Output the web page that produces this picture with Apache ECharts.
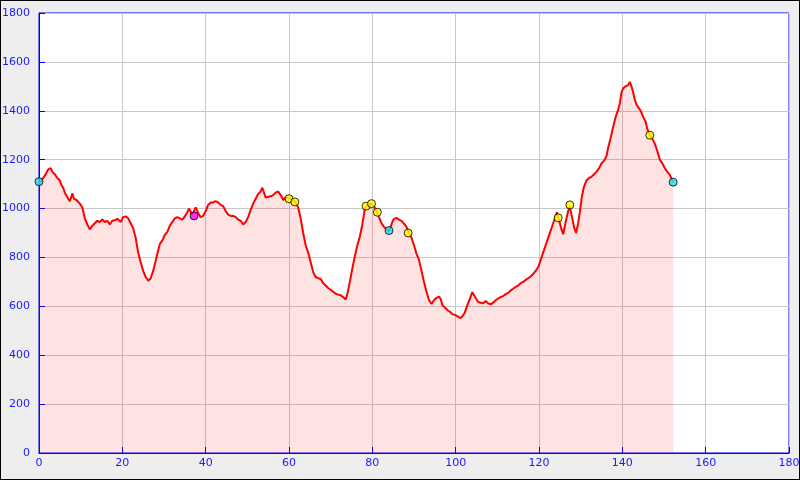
<!DOCTYPE html>
<html>
<head>
<meta charset="utf-8">
<script src="https://cdn.jsdelivr.net/npm/echarts@6/dist/echarts.min.js"></script>
<style>
html,body{margin:0;padding:0;background:#eeeeee;}
#chart{position:absolute;left:0;top:0;width:800px;height:480px;}
#frame{position:absolute;left:0;top:0;width:800px;height:480px;box-sizing:border-box;border:1px solid #000;pointer-events:none;}
</style>
</head>
<body>
<div id="chart"></div>
<div id="frame"></div>
<script>
const distance = [0,0.5,1,1.6,2.2,2.8,3.2,3.8,4.4,5,5.4,5.8,6.2,6.6,7,7.4,7.8,8,8.4,9,9.8,10.4,11,11.6,12.2,12.8,13.4,14,14.6,15.2,15.8,16.4,17,17.6,18.2,18.8,19.2,19.6,20.2,20.8,21.4,22,22.6,23.2,23.8,24.4,25,25.6,26.2,26.8,27.4,28,28.4,29,29.6,30.2,30.8,31.4,32,32.6,33.2,33.8,34.4,35,35.6,36,36.4,36.8,37.2,37.6,38,38.4,38.8,39.4,40,40.6,41.2,41.8,42.4,43,43.6,44.2,44.8,45.4,46,46.6,47.2,47.8,48.4,49,49.6,50.2,50.8,51.4,52,52.6,53.2,53.6,54,54.4,55,55.6,56.2,56.8,57.4,57.8,58.2,58.6,59.2,59.8,60.4,61,61.6,62.2,62.8,63.4,64,64.6,65.2,65.8,66.4,67,67.6,68.2,68.8,69.4,70,70.6,71.2,71.8,72.4,73,73.6,74,74.6,75.2,75.8,76.4,77,77.6,78.2,78.6,79.2,79.8,80.4,81,81.6,82.2,82.8,83.4,84,84.4,84.8,85.2,85.8,86.4,87,87.6,88.2,88.8,89.4,90,90.6,91.2,91.8,92.4,93,93.6,94.2,94.8,95.4,96,96.4,96.8,97.4,98,98.6,99.2,99.8,100.4,101,101.6,102.2,102.8,103.4,104,104.4,104.8,105.4,106,106.6,107.2,107.8,108.4,109,109.6,110.2,110.8,111.4,112,112.6,113.2,113.8,114.4,115,115.6,116.2,116.8,117.4,118,118.6,119.2,119.8,120.4,121,121.6,122.2,122.8,123.4,124,124.3,124.7,125.3,125.8,126.4,127,127.4,127.8,128.4,128.9,129.4,129.8,130.3,130.8,131.4,132,132.6,133.2,133.8,134.4,135,135.6,136.2,136.6,137.2,137.8,138.4,139,139.4,139.8,140.2,140.8,141.4,141.8,142.2,142.6,143,143.4,143.8,144.4,145,145.6,146,146.6,147.2,147.8,148.4,149,149.6,150.2,150.8,151.4,152.2];
const elevation = [1105,1112,1125,1140,1160,1165,1150,1140,1125,1115,1095,1085,1065,1060,1040,1030,1050,1062,1040,1035,1020,1005,960,935,915,930,940,950,945,955,945,950,935,950,952,958,965,945,965,968,960,940,920,880,820,780,745,720,705,715,745,785,815,855,870,892,905,930,945,960,965,960,955,968,985,1000,1005,975,978,1005,1000,975,965,970,990,1015,1025,1025,1030,1025,1015,1010,990,975,970,970,965,955,950,935,945,965,995,1020,1040,1060,1070,1085,1065,1045,1048,1050,1055,1065,1070,1075,1050,1035,1045,1042,1040,1035,1025,1005,960,900,850,820,780,740,720,715,712,695,685,675,668,660,652,648,645,638,628,650,700,755,805,850,885,935,1000,1012,1015,1020,1010,990,965,940,925,915,908,905,945,958,962,955,950,938,925,900,880,850,815,790,745,700,660,625,610,625,635,640,630,605,595,585,578,568,565,560,552,558,575,605,630,658,645,640,618,615,612,622,612,608,615,625,632,638,642,650,655,665,672,680,685,695,700,708,715,722,732,745,760,790,820,850,880,910,940,970,985,960,920,895,945,990,1010,975,925,900,940,985,1050,1090,1115,1125,1130,1140,1150,1165,1185,1195,1215,1250,1290,1335,1375,1405,1430,1475,1492,1500,1505,1518,1500,1475,1445,1425,1415,1400,1375,1355,1325,1300,1285,1265,1235,1200,1185,1165,1150,1138,1108];
const cyanPoints = [[0,1110],[84,910],[152.2,1108]];
const yellowPoints = [[60,1040],[61.4,1027],[78.5,1010],[79.8,1020],[81.2,985],[88.6,900],[124.6,962],[127.4,1015],[146.6,1300]];
const magentaPoints = [[37.2,970]];
const xTicks = [0,20,40,60,80,100,120,140,160,180];
const yTicks = [0,200,400,600,800,1000,1200,1400,1600,1800];

const profile = distance.map((d,i)=>[d, elevation[i]]);
const chart = echarts.init(document.getElementById('chart'), null, {renderer:'canvas'});
const axisText = {color:'#1a1aff', fontFamily:'DejaVu Sans', fontSize:11, formatter:(v)=>String(v)};
const markerSeries = (data,color)=>({
  type:'scatter', data, symbol:'circle', symbolSize:8,
  itemStyle:{color, borderColor:'#000', borderWidth:1}, z:5, silent:true
});
chart.setOption({
  animation:false,
  backgroundColor:'#eeeeee',
  grid:{left:39, right:11, top:13, bottom:27, containLabel:false, outerBoundsMode:'none',
    show:true, backgroundColor:'#ffffff', borderColor:'#0000ff', borderWidth:1},
  xAxis:{type:'value', min:xTicks[0], max:xTicks[xTicks.length-1], interval:20,
    axisLine:{show:true, lineStyle:{color:'#0000ff', width:1}},
    axisTick:{show:true, inside:true, length:6, lineStyle:{color:'#0000ff'}},
    axisLabel:Object.assign({margin:5}, axisText),
    splitLine:{show:true, lineStyle:{color:'#c8c8c8', width:1}}},
  yAxis:{type:'value', min:yTicks[0], max:yTicks[yTicks.length-1], interval:200,
    axisLine:{show:true, lineStyle:{color:'#0000ff', width:1}},
    axisTick:{show:true, inside:true, length:6, lineStyle:{color:'#0000ff'}},
    axisLabel:Object.assign({margin:9}, axisText),
    splitLine:{show:true, lineStyle:{color:'#c8c8c8', width:1}}},
  series:[
    {type:'line', data:profile, showSymbol:false, symbol:'none', smooth:false,
      lineStyle:{color:'#ff0000', width:2}, areaStyle:{color:'rgba(255,0,0,0.11)', opacity:1}, z:2},
    markerSeries(cyanPoints,'#22e0ee'),
    markerSeries(yellowPoints,'#ffff00'),
    markerSeries(magentaPoints,'#ff00ff')
  ]
});
</script>
</body>
</html>
